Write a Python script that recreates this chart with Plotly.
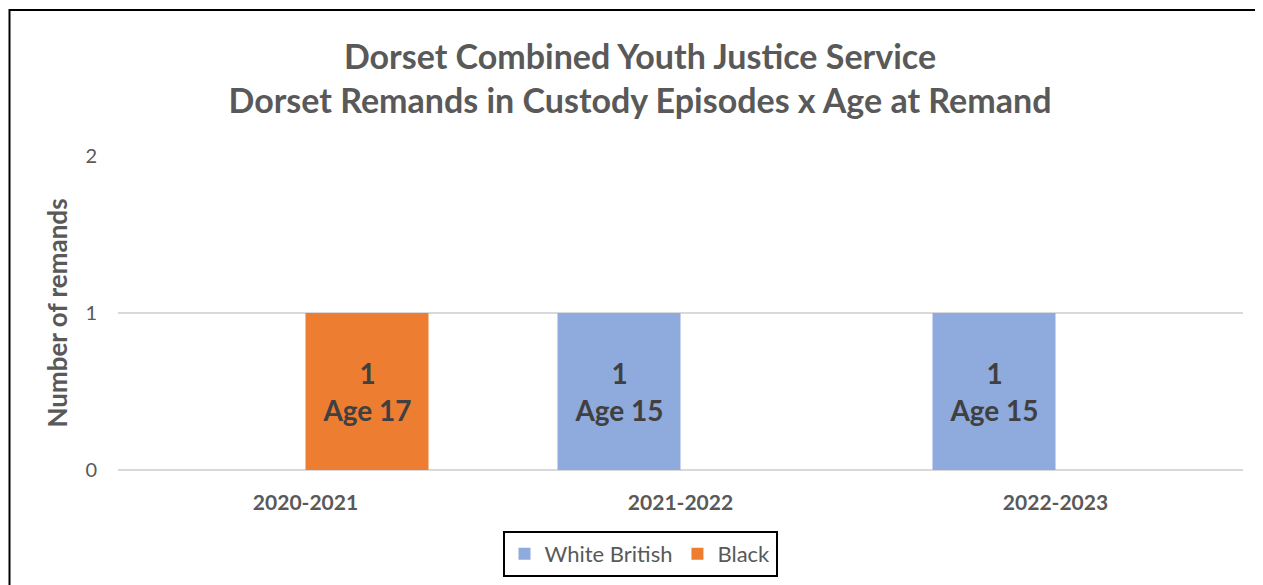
import plotly.graph_objects as go

categories = ["2020-2021", "2021-2022", "2022-2023"]
white_british = [0, 1, 1]
black = [1, 0, 0]
white_british_ages = [None, 15, 15]
black_ages = [17, None, None]
y_ticks = [0, 1, 2]


def labels(vals, ages):
    return [f"<b>{v}<br>Age {a}</b>" if a is not None and v else "" for v, a in zip(vals, ages)]


FONT = "Lato"
GREY = "#595959"
W, H = 1255, 577
L, R, T, B = 110, 20, 148, 115
PW, PH = W - L - R, H - T - B

fig = go.Figure()
fig.add_trace(go.Bar(
    name="White British", x=categories, y=white_british,
    marker=dict(color="#8FAADC", line=dict(width=0)),
    text=labels(white_british, white_british_ages),
    textposition="inside", insidetextanchor="middle",
    textfont=dict(family=FONT, size=28, color="#404040"),
    textangle=0,
))
fig.add_trace(go.Bar(
    name="Black", x=categories, y=black,
    marker=dict(color="#ED7D31", line=dict(width=0)),
    text=labels(black, black_ages),
    textposition="inside", insidetextanchor="middle",
    textfont=dict(family=FONT, size=28, color="#404040"),
    textangle=0,
))

fig.update_layout(
    width=W, height=H,
    paper_bgcolor="white", plot_bgcolor="white",
    margin=dict(l=L, r=R, t=T, b=B, autoexpand=False),
    barmode="group", bargap=0.344, bargroupgap=0,
    font=dict(family=FONT, color=GREY),
    title=dict(
        text="<b>Dorset Combined Youth Justice Service<br>Dorset Remands in Custody Episodes x Age at Remand</b>",
        x=632 / W, xanchor="center", xref="container",
        y=1 - 61 / H, yanchor="top", yref="container",
        font=dict(family=FONT, size=34, color=GREY),
    ),
    xaxis=dict(
        tickfont=dict(family=FONT, size=21, color=GREY),
        tickprefix="<b>", ticksuffix="</b>",
        showline=False, ticks="outside", ticklen=14, tickcolor="rgba(0,0,0,0)",
    ),
    yaxis=dict(
        range=[0, 2], tickvals=y_ticks,
        tickfont=dict(family=FONT, size=20, color=GREY),
        gridcolor="#D9D9D9", gridwidth=1.5,
        zeroline=True, zerolinecolor="#D9D9D9", zerolinewidth=1.5,
        showline=False, ticks="outside", ticklen=16, tickcolor="rgba(0,0,0,0)",
        title=dict(text="<b>Number of remands</b>", font=dict(family=FONT, size=26, color=GREY), standoff=10),
    ),
    legend=dict(
        orientation="h", x=632 / W, xref="container", xanchor="center",
        y=31 / H, yref="container", yanchor="middle",
        bordercolor="black", borderwidth=2,
        font=dict(family=FONT, size=22, color=GREY),
        traceorder="normal",
    ),
    shapes=[dict(
        type="rect", xref="paper", yref="paper",
        x0=(1.5 - L) / PW, x1=1.2, y0=-0.6, y1=(PH + T - 2) / PH,
        line=dict(color="black", width=2), fillcolor="rgba(0,0,0,0)", layer="below",
    )],
)

fig.write_html("out.html")
